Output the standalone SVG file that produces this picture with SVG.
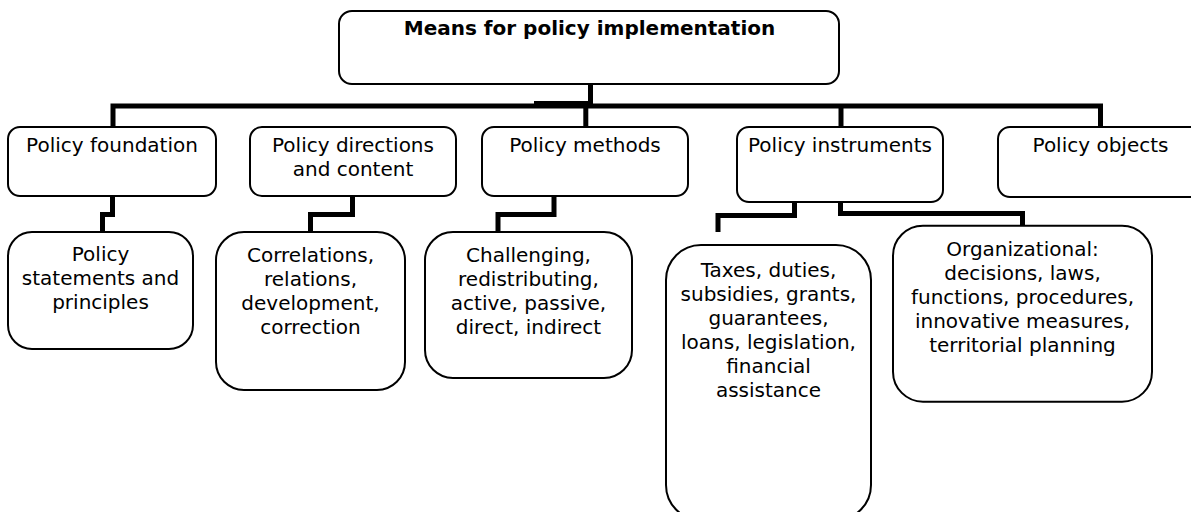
<svg xmlns="http://www.w3.org/2000/svg" width="1191" height="512" viewBox="0 0 1191 512">
<style>
.box{fill:#fff;stroke:#000;stroke-width:2}
.t{font-family:"DejaVu Sans",Verdana,sans-serif;font-size:20px;fill:#000;text-anchor:middle}
.b{font-weight:bold}
.c{fill:none;stroke:#000;stroke-width:5;stroke-linejoin:miter;stroke-linecap:butt}
</style>
<rect width="1191" height="512" fill="#fff"/>
<g id="connectors">
<path class="c" d="M590.5 84 V103.5 H534"/>
<path class="c" d="M113 127 V106 H1100.5 V127" stroke-width="4.5"/>
<path class="c" d="M585.8 106 V127"/>
<path class="c" d="M841 106 V127" stroke-width="4.5"/>
<path class="c" d="M112.5 196 V214.5 H102.5 V232"/>
<path class="c" d="M352.5 196 V214.5 H310.5 V232"/>
<path class="c" d="M554 196 V214.5 H498 V232"/>
<path class="c" d="M794.5 202 V215.5 H718 V232"/>
<path class="c" d="M840.5 202 V213.5 H1022.5 V225"/>
</g>
<g id="n-top"><rect class="box" x="339" y="11" width="500" height="73" rx="13"/><text class="t b" x="589.5" y="35">Means for policy implementation</text></g>
<g id="n-foundation"><rect class="box" x="8" y="127" width="208" height="69" rx="12"/><text class="t" x="112" y="151.5">Policy foundation</text></g>
<g id="n-directions"><rect class="box" x="250" y="127" width="206" height="69" rx="12"/><text class="t" x="353" y="151.5">Policy directions</text><text class="t" x="353" y="175.5">and content</text></g>
<g id="n-methods"><rect class="box" x="482" y="127" width="206" height="69" rx="12"/><text class="t" x="585" y="151.5">Policy methods</text></g>
<g id="n-instruments"><rect class="box" x="737" y="127" width="206" height="75" rx="12"/><text class="t" x="840" y="151.5">Policy instruments</text></g>
<g id="n-objects"><rect class="box" x="998" y="127" width="220" height="70" rx="12"/><text class="t" x="1100.5" y="151.5">Policy objects</text></g>
<g id="n-statements"><rect class="box" x="8" y="232" width="185" height="117" rx="24"/><text class="t" x="100.5" y="261">Policy</text><text class="t" x="100.5" y="284.5">statements and</text><text class="t" x="100.5" y="308.5">principles</text></g>
<g id="n-correlations"><rect class="box" x="216" y="232" width="189" height="158" rx="28"/><text class="t" x="310.5" y="261.5">Correlations,</text><text class="t" x="310.5" y="285.5">relations,</text><text class="t" x="310.5" y="309.5">development,</text><text class="t" x="310.5" y="333.5">correction</text></g>
<g id="n-challenging"><rect class="box" x="425" y="232" width="207" height="146" rx="28"/><text class="t" x="528.5" y="261.5">Challenging,</text><text class="t" x="528.5" y="285.5">redistributing,</text><text class="t" x="528.5" y="309.5">active, passive,</text><text class="t" x="528.5" y="333.5">direct, indirect</text></g>
<g id="n-taxes"><rect class="box" x="666" y="245" width="205" height="275" rx="35"/><text class="t" x="768.5" y="276.7">Taxes, duties,</text><text class="t" x="768.5" y="300.7">subsidies, grants,</text><text class="t" x="768.5" y="324.7">guarantees,</text><text class="t" x="768.5" y="348.7">loans, legislation,</text><text class="t" x="768.5" y="372.7">financial</text><text class="t" x="768.5" y="396.7">assistance</text></g>
<g id="n-organizational"><rect class="box" x="893" y="225.7" width="259" height="176" rx="30"/><text class="t" x="1022.5" y="256">Organizational:</text><text class="t" x="1022.5" y="280">decisions, laws,</text><text class="t" x="1022.5" y="304">functions, procedures,</text><text class="t" x="1022.5" y="328">innovative measures,</text><text class="t" x="1022.5" y="352">territorial planning</text></g>
</svg>
